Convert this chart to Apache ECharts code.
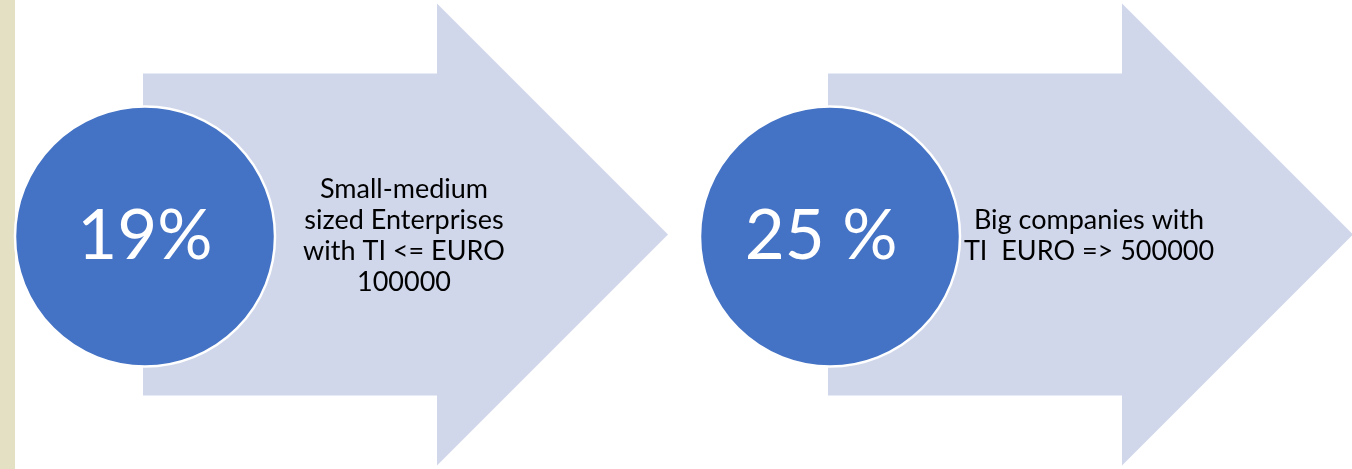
<!DOCTYPE html>
<html>
<head>
<meta charset="utf-8">
<style>
html,body{margin:0;padding:0;background:#fff;}
#main{width:1352px;height:469px;}
</style>
<script src="https://cdn.jsdelivr.net/npm/echarts@6/dist/echarts.min.js"></script>
</head>
<body>
<div id="main"></div>
<script>
// Data
var categories = ['Small-medium sized Enterprises', 'Big companies'];
var shareValues = [19, 25];
var shareLabels = ['19%', '25 % '];
var descriptions = [
  'Small-medium\nsized Enterprises\nwith TI <= EURO\n100000',
  'Big companies with\nTI  EURO => 500000'
];

var chart = echarts.init(document.getElementById('main'));

function renderItem(params, api) {
  var i = api.value(0);
  var band = api.size([1, 0])[0];          // one step width in px
  var c = api.coord([i, 0.5]);
  var x0 = c[0];                             // step start
  var cy = c[1];
  var u = band / 685;
  var circleX = x0 + 145 * u;
  var shaftL = x0 + 143 * u, headB = x0 + 437 * u, tip = x0 + 668 * u;
  var shaftH = 161, headH = 231;
  return {
    type: 'group',
    children: [
      {
        type: 'polygon',
        shape: { points: [
          [shaftL, cy - shaftH], [headB, cy - shaftH], [headB, cy - headH],
          [tip, cy], [headB, cy + headH], [headB, cy + shaftH], [shaftL, cy + shaftH]
        ]},
        style: { fill: '#d0d7eb' }
      },
      {
        type: 'circle',
        shape: { cx: circleX, cy: cy + 2, r: 130 },
        style: { fill: '#4472c4', stroke: '#ffffff', lineWidth: 2.5 }
      },
      {
        type: 'text',
        style: {
          x: circleX, y: cy + 2, text: shareLabels[i],
          fill: '#ffffff', font: '400 69px Lato',
          align: 'center', verticalAlign: 'middle'
        }
      },
      {
        type: 'text',
        style: {
          x: circleX + 259 * u, y: cy + 1, text: descriptions[i],
          fill: '#000000', font: '400 27px Lato', lineHeight: 31,
          align: 'center', verticalAlign: 'middle'
        }
      }
    ]
  };
}

chart.setOption({
  animation: false,
  grid: { left: 0, right: 0, top: 0, bottom: 0 },
  xAxis: { type: 'value', min: 0, max: 1352 / 685, show: false },
  yAxis: { type: 'value', min: 0, max: 1, show: false },
  graphic: [
    { type: 'rect', left: 0, top: 0, shape: { width: 15, height: 469 }, style: { fill: '#e4e0c4' }, z: -1 }
  ],
  series: [{
    type: 'custom',
    name: 'share',
    renderItem: renderItem,
    clip: false,
    data: shareValues.map(function (v, i) { return [i, v, categories[i]]; }),
    encode: { x: 0 }
  }]
});
</script>
</body>
</html>
